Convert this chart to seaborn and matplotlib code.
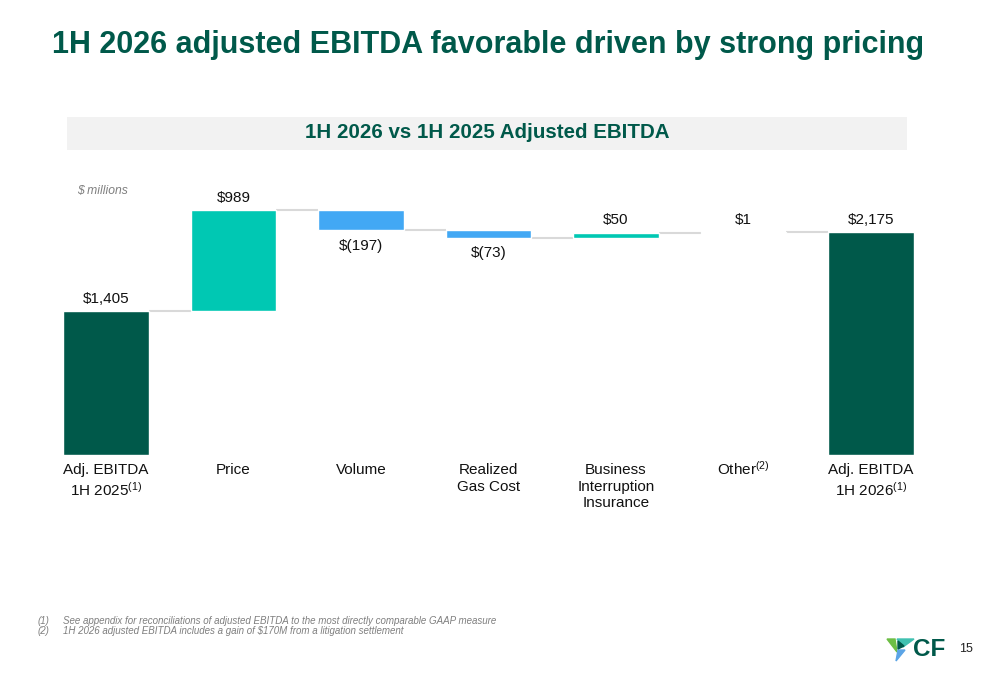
import numpy as np
import matplotlib
matplotlib.use("Agg")
import matplotlib.pyplot as plt
from matplotlib.patches import Polygon, Rectangle
import seaborn as sns

# data
categories = ["Adj. EBITDA\n1H 2025$^{(1)}$", "Price", "Volume", "Realized\nGas Cost",
              "Business\nInterruption\nInsurance", "Other$^{(2)}$", "Adj. EBITDA\n1H 2026$^{(1)}$"]
values = [1405, 989, -197, -73, 50, 1, 2175]
is_total = [True, False, False, False, False, False, True]
value_labels = ["$1,405", "$989", "$(197)", "$(73)", "$50", "$1", "$2,175"]

DARK = "#00594A"
TEAL = "#00C8B3"
BLUE = "#42A8F4"
GRID = "#D9D9D9"

sns.set_theme(style="white")
plt.rcParams["font.family"] = ["Liberation Sans", "DejaVu Sans"]
plt.rcParams["mathtext.fontset"] = "custom"
plt.rcParams["mathtext.rm"] = "Liberation Sans"
plt.rcParams["mathtext.default"] = "regular"

# waterfall bottoms / heights
bottoms, heights, tops = [], [], []
running = 0
for v, tot in zip(values, is_total):
    if tot:
        b, h = 0, v
        running = v
    else:
        b = running if v >= 0 else running + v
        h = abs(v)
        running += v
    bottoms.append(b)
    heights.append(h)
    tops.append(running)

colors = []
for v, tot in zip(values, is_total):
    colors.append(DARK if tot else (TEAL if v >= 0 else BLUE))

fig = plt.figure(figsize=(10, 6.85), dpi=100)
W, H = 1000, 685

ax = fig.add_axes([42.25 / W, (H - 455) / H, 892.5 / W, 266 / H])
width = 0.667
order = list(categories)
for i in range(len(categories)):
    sns.barplot(x=[categories[i]], y=[heights[i]], order=order, bottom=bottoms[i],
                color=colors[i], saturation=1, width=width, errorbar=None, ax=ax)

# connectors
for i in range(len(categories) - 1):
    ax.hlines(tops[i], i + width / 2, i + 1 - width / 2, color=GRID, lw=1.5, zorder=0)

# value labels
for i, (v, tot) in enumerate(zip(values, is_total)):
    top = bottoms[i] + heights[i]
    if v >= 0:
        ax.annotate(value_labels[i], (i, top), xytext=(0, 4), textcoords="offset points",
                    ha="center", va="bottom", fontsize=11, color="#111111")
    else:
        ax.annotate(value_labels[i], (i, bottoms[i]), xytext=(0, -6), textcoords="offset points",
                    ha="center", va="top", fontsize=11, color="#111111")

ax.set_xlim(-0.5, 6.5)
ax.set_ylim(0, 2600)
ax.set_yticks([])
ax.set_ylabel("")
ax.tick_params(axis="x", length=0, pad=6, labelsize=11, labelcolor="#111111")
ax.xaxis.get_major_ticks()[5].set_pad(3.5)
for s in ax.spines.values():
    s.set_visible(False)

# title and subtitle band
fig.text(52 / W, 1 - 45 / H, "1H 2026 adjusted EBITDA favorable driven by strong pricing",
         fontsize=22, fontweight="bold", color=DARK, va="center", ha="left")
fig.add_artist(Rectangle((67 / W, 1 - 150 / H), 840 / W, 33 / H, transform=fig.transFigure,
                         facecolor="#F2F2F2", edgecolor="none", zorder=0))
fig.text(487 / W, 1 - 133 / H, "1H 2026 vs 1H 2025 Adjusted EBITDA", fontsize=14.8,
         fontweight="bold", color=DARK, ha="center", va="center")
fig.text(77 / W, 1 - 191 / H, "$ millions", fontsize=8.7, style="italic", color="#7F7F7F",
         ha="left", va="center")

# footnotes
notes = [("(1)", "See appendix for reconciliations of adjusted EBITDA to the most directly comparable GAAP measure"),
         ("(2)", "1H 2026 adjusted EBITDA includes a gain of $170M from a litigation settlement")]
for k, (n, t) in enumerate(notes):
    y = 1 - (621 + 10 * k) / H
    fig.text(38 / W, y, n, fontsize=7, style="italic", color="#7F7F7F", va="center")
    fig.text(63 / W, y, t, fontsize=7, style="italic", color="#7F7F7F", va="center")

# logo
lax = fig.add_axes([886 / W, 1 - 662 / H, 30 / W, 26 / H])
lax.set_xlim(0, 30)
lax.set_ylim(0, 26)
lax.axis("off")
lax.add_patch(Polygon([[1, 23], [9, 23], [11, 10]], color="#6DBE45"))
lax.add_patch(Polygon([[11, 23], [28, 23], [17, 15]], color="#3FC1B0"))
lax.add_patch(Polygon([[12, 12], [19, 12], [10, 1]], color="#5BA4E6"))
lax.add_patch(Polygon([[12, 21], [18, 16], [12, 13]], color=DARK))
fig.text(913 / W, 1 - 650 / H, "CF", fontsize=17.5, fontweight="bold", color=DARK,
         ha="left", va="center")
fig.text(959 / W, 1 - 649 / H, "15", fontsize=9, color="#222222", ha="left", va="center")

fig.savefig("out.png", dpi=100, facecolor="white")
